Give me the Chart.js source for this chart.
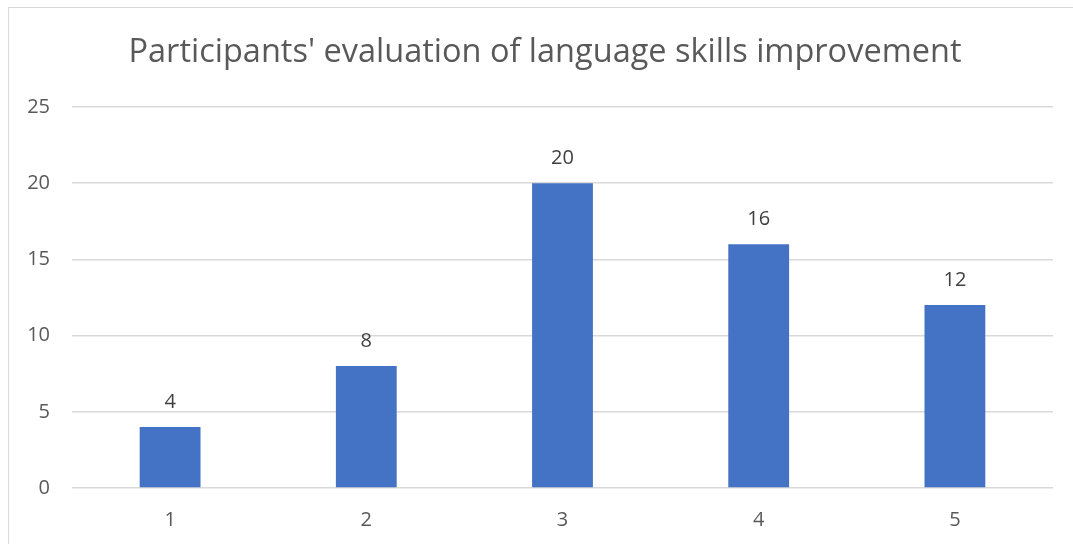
<!DOCTYPE html>
<html>
<head>
<meta charset="utf-8">
<script src="https://cdn.jsdelivr.net/npm/chart.js@4/dist/chart.umd.min.js"></script>
<style>
  html, body { margin: 0; padding: 0; background: #fff; overflow: hidden; }
  #frame { position: absolute; left: 8px; top: 7px; width: 1200px; height: 700px; border: 1.5px solid #d9d9d9; box-sizing: border-box; }
  #wrap { position: absolute; left: 0; top: 0; width: 1073px; height: 544px; }
</style>
</head>
<body>
<div id="frame"></div>
<div id="wrap"><canvas id="c" width="1073" height="544"></canvas></div>
<script>
const titleText = "Participants' evaluation of language skills improvement";
const categories = ["1", "2", "3", "4", "5"];
const values = [4, 8, 20, 16, 12];
const yTicks = [0, 5, 10, 15, 20, 25];

const FONT = "'Open Sans', sans-serif";

const titlePlugin = {
  id: 'titlePlugin',
  afterDraw(chart) {
    const ctx = chart.ctx;
    ctx.save();
    ctx.font = "32.5px " + FONT;
    ctx.fillStyle = "#595959";
    ctx.textAlign = "center";
    ctx.textBaseline = "alphabetic";
    ctx.fillText(titleText, 545, 62);
    ctx.restore();
  }
};

const dataLabels = {
  id: 'dataLabels',
  afterDatasetsDraw(chart) {
    const ctx = chart.ctx;
    const meta = chart.getDatasetMeta(0);
    ctx.save();
    ctx.font = "20px " + FONT;
    ctx.fillStyle = "#404040";
    ctx.textAlign = "center";
    ctx.textBaseline = "middle";
    meta.data.forEach((bar, i) => {
      ctx.fillText(String(values[i]), bar.x, bar.y - 25);
    });
    ctx.restore();
  }
};

new Chart(document.getElementById('c'), {
  type: 'bar',
  data: {
    labels: categories,
    datasets: [{
      data: values,
      backgroundColor: '#4472C4',
      borderWidth: 0,
      barPercentage: 0.62,
      categoryPercentage: 0.5
    }]
  },
  options: {
    responsive: false,
    animation: false,
    devicePixelRatio: 1,
    layout: { padding: { left: 0, right: 20, top: 107, bottom: 0 } },
    plugins: {
      legend: { display: false },
      tooltip: { enabled: false },
      title: { display: false }
    },
    scales: {
      x: {
        grid: { display: false, drawTicks: false },
        border: { display: false },
        ticks: { color: '#595959', font: { family: FONT, size: 20 }, padding: 20 },
        afterFit(scale) { scale.height = 56; }
      },
      y: {
        min: 0, max: 25,
        afterBuildTicks(scale) { scale.ticks = yTicks.map(v => ({ value: v })); },
        grid: { color: '#d9d9d9', lineWidth: 1.5, drawTicks: false },
        border: { display: false },
        ticks: { color: '#595959', font: { family: FONT, size: 20 }, padding: 22 },
        afterFit(scale) { scale.width = 72; }
      }
    }
  },
  plugins: [dataLabels, titlePlugin]
});
</script>
</body>
</html>
